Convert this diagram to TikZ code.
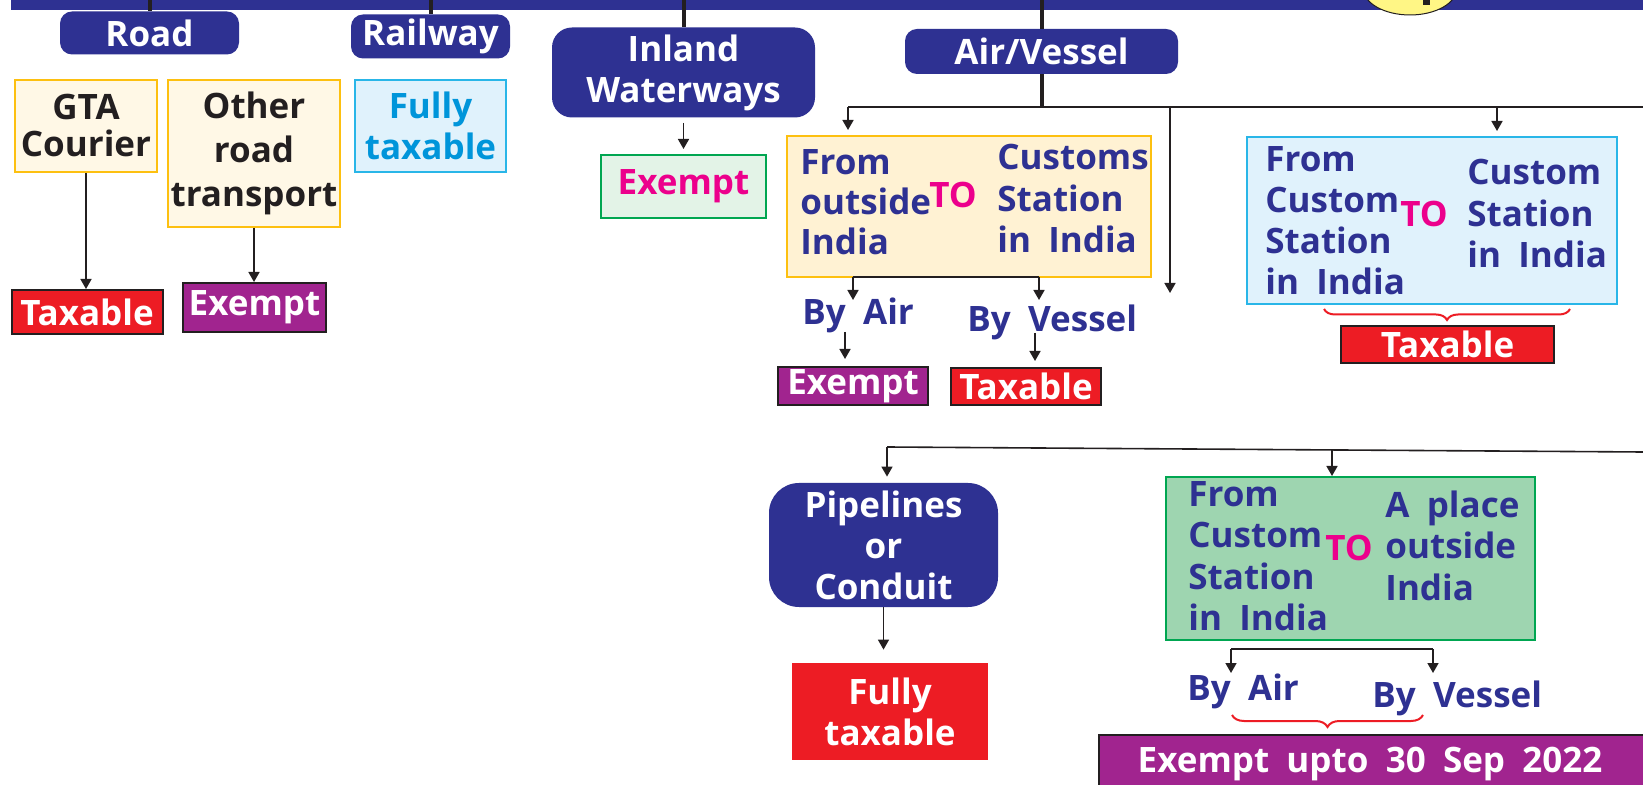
\documentclass[tikz,border=0pt]{standalone}
\usepackage{fontspec}
\setmainfont{Open Sans}[WordSpace={1.9,1,1}]
\usetikzlibrary{arrows.meta,decorations.pathreplacing}
\definecolor{navy}{HTML}{2E3192}
\definecolor{gold}{HTML}{FDC010}
\definecolor{cream}{HTML}{FFF8E6}
\definecolor{ylw}{HTML}{FFF2D3}
\definecolor{lblue}{HTML}{E0F2FC}
\definecolor{cyanb}{HTML}{29B6E8}
\definecolor{cyant}{HTML}{0095DA}
\definecolor{lgreen}{HTML}{E3F3E7}
\definecolor{grnb}{HTML}{00A651}
\definecolor{mgreen}{HTML}{9ED5B0}
\definecolor{magn}{HTML}{EC008C}
\definecolor{tred}{HTML}{ED1C24}
\definecolor{tpurple}{HTML}{A1248F}
\definecolor{dark}{HTML}{231F20}
\definecolor{bulb}{HTML}{FFF685}
\begin{document}
\begin{tikzpicture}[x=0.5pt,y=-0.5pt,
  font=\bfseries\fontsize{17.5}{20.5}\selectfont,
  navybox/.style={fill=navy,text=white,rounded corners=6pt,inner sep=0pt,align=center},
  creambox/.style={fill=cream,draw=gold,line width=1pt,inner sep=0pt,align=center,text=dark},
  ylwbox/.style={fill=ylw,draw=gold,line width=1pt,inner sep=0pt},
  bluebox/.style={fill=lblue,draw=cyanb,line width=1pt,inner sep=0pt,align=center},
  greenbox/.style={fill=lgreen,draw=grnb,line width=1pt,inner sep=0pt,align=center},
  mgreenbox/.style={fill=mgreen,draw=grnb,line width=1pt,inner sep=0pt},
  redbox/.style={fill=tred,draw=dark,line width=1pt,text=white,inner sep=0pt,align=center},
  purplebox/.style={fill=tpurple,draw=dark,line width=1pt,text=white,inner sep=0pt,align=center},
  navytext/.style={text=navy,inner sep=0pt},
  magtext/.style={text=magn,inner sep=0pt},
  arr/.style={draw=dark,line width=0.8pt,-{Triangle[length=5pt,width=5.5pt]}},
  ln/.style={draw=dark,line width=0.8pt},
  stem/.style={draw=dark,line width=2pt},
  brc/.style={draw=tred,line width=1pt,decorate,decoration={brace,mirror,amplitude=5.5pt}}]
\useasboundingbox (0,0) rectangle (1643,785);
\path[fill=white] (0,0) rectangle (1643,785);

% top band and bulb
\node[fill=navy,inner sep=0pt,minimum width=816pt,minimum height=8pt] (band) at (827,2) {};
\filldraw[fill=bulb,draw=dark,line width=0.5pt] (1410,-12) ellipse [x radius=23.5pt,y radius=13.5pt];
\fill[dark] (1423,-2) rectangle (1430,5);

% first level
\node[navybox,minimum width=89.5pt,minimum height=21.5pt] (road) at (149.5,33) {Road};
\node[navybox,minimum width=79.5pt,minimum height=22pt] (rail) at (430.5,36.5) {Railway};
\node[navybox,rounded corners=10pt,minimum width=131.5pt,minimum height=45pt] (inland) at (683.5,72.5) {Inland\\Waterways};
\node[navybox,minimum width=136.5pt,minimum height=22.5pt] (air) at (1041.5,51.5) {Air/Vessel};
\draw[stem] (road.north |- 0,0) -- (road.north);
\draw[stem] (rail.north |- 0,0) -- (rail.north);
\draw[stem] (inland.north |- 0,0) -- (inland.north);
\draw[stem] (air.north |- 0,0) -- (air.north);

% road / railway
\node[creambox,minimum width=71pt,minimum height=46pt,font=\bfseries\fontsize{17.5}{18.5}\selectfont] (gta) at (86,126) {GTA\\Courier};
\node[creambox,minimum width=86pt,minimum height=73.5pt,font=\bfseries\fontsize{17.5}{22}\selectfont] (other) at (254,153.5) {Other\\road\\transport};
\node[bluebox,text=cyant,minimum width=75.5pt,minimum height=46pt] (fully1) at (430.5,126) {Fully\\taxable};
\node[redbox,minimum width=75.5pt,minimum height=22pt] (tax1) at (87,312) {Taxable};
\node[purplebox,minimum width=71.5pt,minimum height=24.5pt] (ex1) at (254.5,307.5) {Exempt};
\draw[arr] (gta.south) -- (gta.south |- tax1.north);
\draw[arr] (other.south) -- (other.south |- ex1.north);

% inland
\node[greenbox,text=magn,minimum width=82.5pt,minimum height=31.5pt] (ex2) at (683.5,186.5) {Exempt};
\draw[arr,shorten <=2.5pt,shorten >=2.5pt] (inland.south) -- (inland.south |- ex2.north);

% air / vessel
\coordinate (hA) at (air.south |- 0,107);
\draw[stem] (air.south) -- (hA);
\coordinate (h1) at (848,107);
\coordinate (h2) at (1170,107);
\coordinate (h3) at (1497,107);
\coordinate (hR) at (1643,107);
\draw[ln] (h1) -- (hR);

\node[ylwbox,minimum width=182pt,minimum height=70.5pt] (ybox) at (969,206.5) {};
\foreach \t [count=\i] in {From,outside,India}
  \node[navytext,anchor=base west] (yl\i) at (800,{175+40*(\i-1)}) {\t};
\node[magtext,anchor=base west] (yto) at (929,208) {TO};
\foreach \t [count=\i] in {Customs,Station,in India}
  \node[navytext,anchor=base west] (yr\i) at (997,{170+41.5*(\i-1)}) {\t};
\draw[arr,shorten >=2.5pt] (h1) -- (h1 |- ybox.north);
\coordinate (e2) at (1170,293);
\draw[arr] (h2) -- (e2);

\node[bluebox,minimum width=185pt,minimum height=83.5pt] (bbox) at (1432,220.5) {};
\foreach \t [count=\i] in {From,Custom,Station,in India}
  \node[navytext,anchor=base west] (bl\i) at (1265,{172+41*(\i-1)}) {\t};
\node[magtext,anchor=base west] (bto) at (1400,227) {TO};
\foreach \t [count=\i] in {Custom,Station,in India}
  \node[navytext,anchor=base west] (br\i) at (1467,{185+41.5*(\i-1)}) {\t};
\draw[arr,shorten >=2.5pt] (h3) -- (h3 |- bbox.north);
\coordinate (bc1) at (1324,309);
\coordinate (bc2) at (1570,309);
\draw[brc] (bc1) -- (bc2);
\node[redbox,minimum width=106.5pt,minimum height=18.5pt] (tax2) at (1447.5,344.5) {Taxable};

% by air / by vessel (import)
\coordinate (yb1) at (853,277);
\coordinate (yb2) at (1039,277);
\coordinate (ya1) at (853,300);
\coordinate (ya2) at (1039,300);
\draw[ln] (yb1) -- (yb2);
\draw[arr] (yb1) -- (ya1);
\draw[arr] (yb2) -- (ya2);
\node[navytext,anchor=base west] (byair1) at (802,325) {By Air};
\node[navytext,anchor=base west] (byves1) at (967,332) {By Vessel};
\node[purplebox,minimum width=75pt,minimum height=19pt] (ex3) at (853,386) {Exempt};
\node[redbox,minimum width=75pt,minimum height=18.5pt] (tax3) at (1026,386.5) {Taxable};
\coordinate (ba1) at (845,332);
\coordinate (bv1) at (1035,333);
\draw[arr,shorten >=3.5pt] (ba1) -- (ba1 |- ex3.north);
\draw[arr,shorten >=3pt] (bv1) -- (bv1 |- tax3.north);

% second row
\coordinate (g1) at (887,447);
\coordinate (g2) at (1332,450);
\coordinate (gR) at (1643,452);
\draw[ln] (g1) -- (gR);
\node[navybox,rounded corners=15pt,minimum width=114.5pt,minimum height=62pt] (pipe) at (883.5,545) {Pipelines\\or\\Conduit};
\node[fill=tred,text=white,inner sep=0pt,align=center,minimum width=98pt,minimum height=48.5pt] (fully2) at (890,711.5) {Fully\\taxable};
\draw[arr,shorten >=3pt] (g1) -- (g1 |- pipe.north);
\draw[arr,shorten >=6.5pt] (pipe.south) -- (pipe.south |- fully2.north);

\node[mgreenbox,minimum width=184.5pt,minimum height=81.5pt] (gbox) at (1350.5,558.5) {};
\foreach \t [count=\i] in {From,Custom,Station,in India}
  \node[navytext,anchor=base west] (gl\i) at (1188,{507+41*(\i-1)}) {\t};
\node[magtext,anchor=base west] (gto) at (1325,560) {TO};
\foreach \t [count=\i] in {A place,outside,India}
  \node[navytext,anchor=base west] (gr\i) at (1385,{517+41.5*(\i-1)}) {\t};
\draw[arr] (g2) -- (g2 |- gbox.north);

\coordinate (gb1) at (1231,649);
\coordinate (gb2) at (1433,649);
\coordinate (ga1) at (1231,673);
\coordinate (ga2) at (1433,673);
\draw[ln] (gb1) -- (gb2);
\draw[arr] (gb1) -- (ga1);
\draw[arr] (gb2) -- (ga2);
\node[navytext,anchor=base west] (byair2) at (1187,700) {By Air};
\node[navytext,anchor=base west] (byves2) at (1372,707) {By Vessel};
\coordinate (bd1) at (1232,715);
\coordinate (bd2) at (1423,715);
\draw[brc,decoration={amplitude=6pt}] (bd1) -- (bd2);
\node[purplebox,anchor=north west,minimum width=272.5pt,minimum height=32pt] (exsep) at (1098,734) {};
\node[text=white,inner sep=0pt,anchor=base] (exsept) at (1370,772) {Exempt upto 30 Sep 2022};
\end{tikzpicture}
\end{document}
